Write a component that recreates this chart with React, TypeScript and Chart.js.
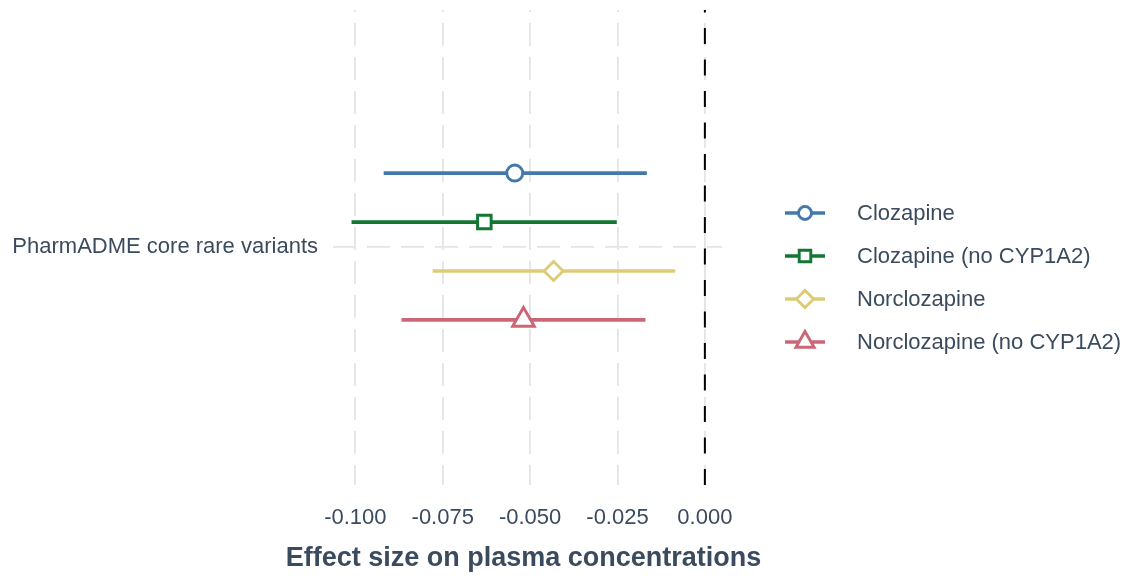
import React, { useEffect, useRef } from "react";
import { Chart, registerables } from "chart.js";

Chart.register(...registerables);

// Forest-plot data: one category, four dodged estimates with 95% intervals
const categoryLabel = "PharmADME core rare variants";
const seriesNames = [
  "Clozapine",
  "Clozapine (no CYP1A2)",
  "Norclozapine",
  "Norclozapine (no CYP1A2)",
];
const estimates = [-0.0544, -0.0631, -0.0433, -0.0519];
const lowerCI = [-0.0919, -0.1011, -0.0779, -0.0868];
const upperCI = [-0.0166, -0.0252, -0.0085, -0.017];
const dodgeOffsets = [1.5, 0.5, -0.5, -1.5];
const xTicks = [-0.1, -0.075, -0.05, -0.025, 0];
const xAxisTitle = "Effect size on plasma concentrations";

const seriesColors = ["#4477AA", "#117733", "#DDCC77", "#CC6677"];
const pointStyles = ["circle", "rect", "rectRot", "triangle"] as const;
const pointRadii = [8, 9.6, 9.5, 12.5];
const legendRadii = [6.5, 8.2, 8.6, 10.5];

const FONT = "'Liberation Sans', Arial, Helvetica, sans-serif";
const TEXT_COLOR = "#3b4b5e";
const GRID_COLOR = "#e4e4e4";
const BAR_WIDTH = 3.7;
const MARKER_STROKE = 2.9;

function drawMarker(
  ctx: CanvasRenderingContext2D,
  style: string,
  x: number,
  y: number,
  r: number
) {
  ctx.beginPath();
  if (style === "circle") {
    ctx.arc(x, y, r, 0, Math.PI * 2);
  } else if (style === "rect") {
    const s = r * Math.SQRT1_2;
    ctx.rect(x - s, y - s, 2 * s, 2 * s);
  } else if (style === "rectRot") {
    ctx.moveTo(x - r, y);
    ctx.lineTo(x, y - r);
    ctx.lineTo(x + r, y);
    ctx.lineTo(x, y + r);
    ctx.closePath();
  } else {
    const third = (Math.PI * 2) / 3;
    for (let k = 0; k < 3; k++) {
      const a = k * third;
      const px = x + Math.sin(a) * r;
      const py = y - Math.cos(a) * r;
      if (k === 0) ctx.moveTo(px, py);
      else ctx.lineTo(px, py);
    }
    ctx.closePath();
  }
  ctx.fill();
  ctx.stroke();
}

// Dashed reference line at zero, plus axis title and legend
const decorations = {
  id: "forestDecorations",
  beforeDatasetsDraw(chart: any) {
    const { ctx, chartArea, scales } = chart;
    const x0 = scales.x.getPixelForValue(0);
    ctx.save();
    ctx.strokeStyle = "#000";
    ctx.lineWidth = 2;
    ctx.setLineDash([16, 15.5]);
    ctx.beginPath();
    ctx.moveTo(x0, chartArea.bottom);
    ctx.lineTo(x0, chartArea.top);
    ctx.stroke();
    ctx.restore();
  },
  afterDraw(chart: any) {
    const { ctx, chartArea } = chart;
    ctx.save();
    // x-axis title
    ctx.fillStyle = TEXT_COLOR;
    ctx.font = `bold 27px ${FONT}`;
    ctx.textAlign = "center";
    ctx.textBaseline = "alphabetic";
    ctx.fillText(xAxisTitle, (chartArea.left + chartArea.right) / 2 - 4, 566);

    // legend
    const keyLeft = 785;
    const keyRight = 825;
    const keyMid = (keyLeft + keyRight) / 2;
    const textLeft = 857;
    const firstRow = 213;
    const rowGap = 43;
    seriesNames.forEach((name, i) => {
      const y = firstRow + i * rowGap;
      ctx.strokeStyle = seriesColors[i];
      ctx.lineWidth = BAR_WIDTH;
      ctx.setLineDash([]);
      ctx.beginPath();
      ctx.moveTo(keyLeft, y);
      ctx.lineTo(keyRight, y);
      ctx.stroke();
      ctx.fillStyle = "#ffffff";
      ctx.lineWidth = MARKER_STROKE;
      drawMarker(ctx, pointStyles[i], keyMid, y, legendRadii[i]);
      ctx.fillStyle = TEXT_COLOR;
      ctx.font = `22px ${FONT}`;
      ctx.textAlign = "left";
      ctx.textBaseline = "middle";
      ctx.fillText(name, textLeft, y + 1);
    });
    ctx.restore();
  },
};

export default function App() {
  const canvasRef = useRef<HTMLCanvasElement | null>(null);

  useEffect(() => {
    if (!canvasRef.current) return;
    const datasets = seriesNames.map((name, i) => ({
      label: name,
      data: [
        { x: lowerCI[i], y: dodgeOffsets[i] },
        { x: estimates[i], y: dodgeOffsets[i] },
        { x: upperCI[i], y: dodgeOffsets[i] },
      ],
      showLine: true,
      borderColor: seriesColors[i],
      borderWidth: BAR_WIDTH,
      borderCapStyle: "butt" as const,
      pointStyle: pointStyles[i],
      pointRadius: [0, pointRadii[i], 0],
      pointHoverRadius: [0, pointRadii[i], 0],
      pointBackgroundColor: "#ffffff",
      pointBorderColor: seriesColors[i],
      pointBorderWidth: MARKER_STROKE,
    }));

    const chart = new Chart(canvasRef.current, {
      type: "scatter",
      data: { datasets },
      options: {
        animation: false,
        responsive: true,
        maintainAspectRatio: false,
        devicePixelRatio: 1,
        layout: { padding: { left: 0, right: 411, top: 10, bottom: 0 } },
        plugins: {
          legend: { display: false },
          tooltip: { enabled: false },
          title: { display: false },
        },
        scales: {
          x: {
            type: "linear",
            min: -0.1064,
            max: 0.0049,
            afterBuildTicks: (axis: any) => {
              axis.ticks = xTicks.map((v) => ({ value: v }));
            },
            afterFit: (axis: any) => {
              axis.height = 94;
              axis.paddingLeft = 0;
              axis.paddingRight = 0;
            },
            ticks: {
              color: TEXT_COLOR,
              font: { family: FONT, size: 22 },
              padding: 20,
              maxRotation: 0,
              autoSkip: false,
              callback: (v: any) => Number(v).toFixed(3),
            },
            grid: {
              color: GRID_COLOR,
              lineWidth: 1.8,
              drawTicks: false,
            },
            border: { display: false, dash: [23, 11], dashOffset: 21 },
          },
          y: {
            type: "linear",
            min: -4.87,
            max: 4.83,
            afterBuildTicks: (axis: any) => {
              axis.ticks = [{ value: 0 }];
            },
            afterFit: (axis: any) => {
              axis.width = 333;
              axis.paddingTop = 0;
              axis.paddingBottom = 0;
            },
            ticks: {
              color: TEXT_COLOR,
              font: { family: FONT, size: 22 },
              padding: 15,
              callback: () => categoryLabel,
            },
            grid: {
              color: GRID_COLOR,
              lineWidth: 1.8,
              drawTicks: false,
            },
            border: { display: false, dash: [23, 11], dashOffset: 0 },
          },
        },
      },
      plugins: [decorations],
    });

    return () => chart.destroy();
  }, []);

  return (
    <div
      style={{
        position: "absolute",
        left: 0,
        top: 0,
        width: 1133,
        height: 579,
        background: "#ffffff",
      }}
    >
      <canvas ref={canvasRef} />
    </div>
  );
}
